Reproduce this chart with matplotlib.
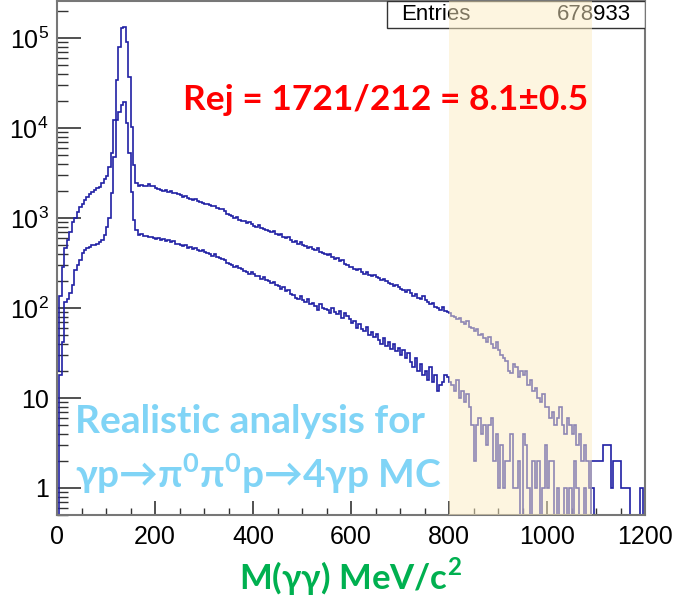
import numpy as np
import matplotlib.pyplot as plt
from matplotlib.ticker import FixedLocator, FixedFormatter, MultipleLocator
from matplotlib.patches import Rectangle

plt.rcParams['font.family'] = ['Liberation Sans', 'DejaVu Sans']
plt.rcParams['mathtext.fontset'] = 'custom'
plt.rcParams['mathtext.rm'] = 'Liberation Sans'
plt.rcParams['mathtext.bf'] = 'Lato:bold'

# ---------- Data (5 MeV bins, 0-1200 MeV) ----------
bin_edges = np.arange(0, 1205, 5)

all_counts = [
    20, 135, 285, 464, 570, 700, 900, 1000, 1170, 1330,
    1450, 1580, 1730, 1850, 1960, 2040, 2150, 2200, 2450, 2700,
    2980, 3700, 5300, 12500, 34000, 81000, 130000, 135000, 90000, 37000,
    10300, 3900, 2450, 2300, 2350, 2250, 2300, 2400, 2300, 2250,
    2150, 2100, 2050, 2000, 2050, 1950, 1980, 1900, 1920, 1850,
    1820, 1700, 1750, 1680, 1650, 1600, 1620, 1560, 1500, 1480,
    1450, 1430, 1400, 1350, 1380, 1300, 1280, 1250, 1200, 1120,
    1080, 1050, 1000, 1020, 960, 940, 920, 880, 900, 860,
    820, 800, 830, 780, 760, 740, 720, 700, 720, 670,
    650, 660, 620, 600, 610, 570, 550, 560, 520, 540,
    500, 490, 470, 480, 450, 440, 460, 420, 410, 400,
    390, 400, 370, 350, 360, 330, 340, 310, 300, 290,
    285, 275, 262, 270, 250, 242, 252, 232, 228, 236,
    222, 215, 205, 210, 198, 190, 185, 175, 182, 170,
    165, 158, 150, 160, 148, 138, 142, 130, 126, 135,
    122, 118, 110, 115, 104, 100, 96, 102, 92, 90,
    88, 82, 80, 75, 78, 70, 66, 72, 62, 60,
    56, 58, 50, 52, 46, 42, 48, 40, 36, 42,
    34, 30, 28, 26, 20, 19, 24, 22, 17, 20,
    18, 20, 14, 16, 12, 13, 10, 9, 11, 8,
    8, 6, 7, 5, 6, 8, 5, 4, 6, 5,
    4, 5, 3, 4, 2, 3, 2, 1, 2, 2,
    2, 2, 2, 3, 3, 3, 1, 2, 2, 2,
    1, 1, 1, 1, 0, 0, 0, 0, 1, 0,
]

sel_counts = [
    0, 18, 42, 116, 125, 146, 180, 265, 300, 340,
    410, 440, 465, 480, 500, 505, 520, 540, 570, 650,
    800, 1000, 1900, 4800, 12500, 15000, 18000, 19500, 11400, 5300,
    1960, 950, 730, 650, 660, 630, 640, 610, 620, 600,
    590, 600, 570, 580, 560, 565, 540, 555, 520, 510,
    505, 490, 500, 470, 480, 450, 460, 440, 430, 445,
    420, 410, 400, 380, 395, 370, 360, 350, 340, 320,
    310, 300, 290, 295, 280, 270, 260, 250, 240, 255,
    240, 230, 225, 210, 220, 205, 200, 190, 195, 180,
    175, 165, 170, 155, 160, 145, 140, 130, 125, 135,
    122, 118, 125, 110, 115, 105, 95, 112, 100, 98,
    96, 88, 100, 90, 85, 92, 78, 88, 82, 75,
    68, 72, 60, 66, 58, 55, 62, 50, 54, 48,
    52, 44, 40, 46, 38, 42, 35, 40, 33, 36,
    30, 34, 28, 32, 25, 22, 28, 20, 24, 18,
    20, 16, 22, 15, 18, 12, 14, 15, 18, 17,
    15, 14, 12, 16, 10, 12, 9, 11, 8, 5,
    2, 5, 6, 4, 5, 3, 5, 6, 2, 4,
    1, 3, 1, 2, 2, 4, 1, 1, 2, 0,
    4, 3, 1, 0, 2, 1, 2, 0, 1, 3,
    1, 2, 2, 0, 1, 0, 0, 1, 0, 1,
    0, 2, 1, 0, 0, 1, 0, 0, 1, 0,
    0, 0, 0, 0, 0, 0, 0, 0, 0, 0,
    0, 0, 0, 0, 0, 0, 0, 0, 0, 0,
]

cut_lo, cut_hi = 800, 1092
entries = "678933"
rej_text = "Rej = 1721/212 = 8.1\u00b10.5"
note_lines = ["Realistic analysis for",
              "\u03b3p\u2192\u03c0$^{\\mathbf{0}}$\u03c0$^{\\mathbf{0}}$p\u2192" + "4\u03b3p MC"]
x_title = "M(\u03b3\u03b3) MeV/c$^{\\mathbf{2}}$"
y_ticks = [1, 10, 100, 1000, 10000, 100000]
y_labels = ["1", "10", "10$^{2}$", "10$^{3}$", "10$^{4}$", "10$^{5}$"]

# ---------- Figure ----------
fig = plt.figure(figsize=(6.76, 6.01), dpi=100)
ax = fig.add_axes([57 / 676, 86 / 601, 588 / 676, 514 / 601])

line_col = '#2020a4'
floor = 1e-2
for counts in (all_counts, sel_counts):
    v = np.array(counts, dtype=float)
    v[v <= 0] = floor
    ax.stairs(v, bin_edges, color=line_col, lw=1.2, baseline=floor, zorder=2)

ax.set_yscale('log')
ax.set_xlim(0, 1200)
ax.set_ylim(0.5, 2.6e5)

ax.yaxis.set_major_locator(FixedLocator(y_ticks))
ax.yaxis.set_major_formatter(FixedFormatter(y_labels))
ax.xaxis.set_major_locator(MultipleLocator(200))
ax.xaxis.set_minor_locator(MultipleLocator(50))
ax.tick_params(axis='both', which='major', labelsize=18, direction='in',
               color='#333333', top=False, right=False)
ax.tick_params(axis='y', which='major', length=17, width=1.2, pad=6)
ax.tick_params(axis='y', which='minor', length=8, width=1.0, direction='in',
               color='#333333')
ax.tick_params(axis='x', which='major', length=10, width=1.2, pad=7)
ax.tick_params(axis='x', which='minor', length=5, width=1.0, direction='in',
               color='#333333')
for s in ax.spines.values():
    s.set_color('#777777')
    s.set_linewidth(1.5)

# stats box
box_x0 = (387 - 57) / 588
box_h = 27 / 514
ax.add_patch(Rectangle((box_x0, 1 - box_h), 1 - box_x0, box_h, transform=ax.transAxes,
                       facecolor='white', edgecolor='#333333', lw=1.0, zorder=3))
ax.text(box_x0 + 0.024, 1 - box_h / 2, "Entries", transform=ax.transAxes,
        fontsize=16, va='center', ha='left', zorder=4)
ax.text(0.976, 1 - box_h / 2, entries, transform=ax.transAxes,
        fontsize=16, va='center', ha='right', zorder=4)

# cut window overlay
ax.axvspan(cut_lo, cut_hi, color='#fdedc3', alpha=0.5, lw=0, zorder=5)

# annotations
bold = dict(fontweight='bold', family=['Lato', 'DejaVu Sans'], zorder=6)
ax.text((183 - 57) / 588, 0.807, rej_text, transform=ax.transAxes, color='red',
        fontsize=25.5, ha='left', va='center', **bold)
ax.text(0.03, 0.181, note_lines[0], transform=ax.transAxes, color='#80d4f6',
        fontsize=28, ha='left', va='center', **bold)
ax.text(0.03, 0.08, note_lines[1], transform=ax.transAxes, color='#80d4f6',
        fontsize=28, ha='left', va='center', **bold)

fig.text(350 / 676, 1 - 577 / 601, x_title, color='#00b050',
         fontsize=25, fontweight='bold', family=['Lato', 'DejaVu Sans'],
         ha='center', va='center')

fig.savefig('out.png', dpi=100)
